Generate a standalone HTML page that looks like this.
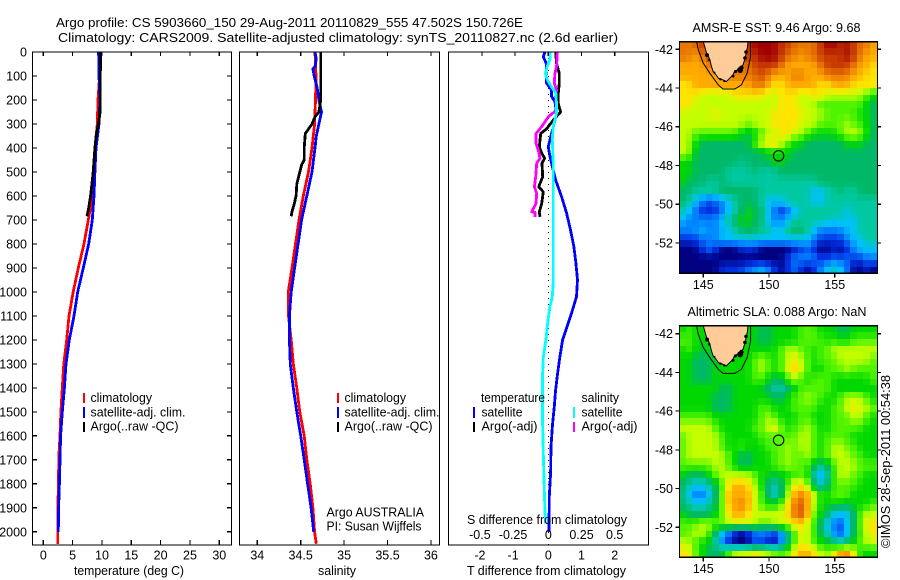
<!DOCTYPE html>
<html lang="en">
<head>
<meta charset="utf-8">
<title>Argo profile chart</title>
<style>
html,body{margin:0;padding:0;background:#fff;}
svg{display:block;font-family:"Liberation Sans",sans-serif;font-size:12.5px;fill:#000;}
text{fill:#000;}
.frame{fill:none;stroke:#000;stroke-width:1.4;}
</style>
</head>
<body>
<svg id="chart" width="900" height="580" viewBox="0 0 900 580" xmlns="http://www.w3.org/2000/svg">
<rect x="0" y="0" width="900" height="580" fill="#fff"/>
<text x="56" y="27" textLength="467" lengthAdjust="spacingAndGlyphs">Argo profile: CS 5903660_150 29-Aug-2011 20110829_555 47.502S 150.726E</text>
<text x="58" y="42" textLength="560" lengthAdjust="spacingAndGlyphs">Climatology: CARS2009. Satellite-adjusted climatology: synTS_20110827.nc (2.6d earlier)</text>

<g id="marks-layer"></g>

<text x="74" y="575" textLength="110" lengthAdjust="spacingAndGlyphs">temperature (deg C)</text>
<text x="318" y="575" textLength="38" lengthAdjust="spacingAndGlyphs">salinity</text>
<text x="467" y="575" textLength="159" lengthAdjust="spacingAndGlyphs">T difference from climatology</text>
<text x="467" y="524" textLength="160" lengthAdjust="spacingAndGlyphs">S difference from climatology</text>

<g>
<rect x="83" y="393" width="2" height="10" fill="#f00"/>
<text x="90.5" y="402" textLength="61.5" lengthAdjust="spacingAndGlyphs">climatology</text>
<rect x="83" y="407" width="2" height="11" fill="#00f"/>
<text x="90.5" y="416.5" textLength="95" lengthAdjust="spacingAndGlyphs">satellite-adj. clim.</text>
<rect x="83" y="422" width="2" height="10" fill="#000"/>
<text x="90.5" y="430.5" textLength="88" lengthAdjust="spacingAndGlyphs">Argo(..raw -QC)</text>
</g>
<g>
<rect x="337" y="393" width="2" height="10" fill="#f00"/>
<text x="344.5" y="402" textLength="61.5" lengthAdjust="spacingAndGlyphs">climatology</text>
<rect x="337" y="407" width="2" height="11" fill="#00f"/>
<text x="344.5" y="416.5" textLength="95" lengthAdjust="spacingAndGlyphs">satellite-adj. clim.</text>
<rect x="337" y="422" width="2" height="10" fill="#000"/>
<text x="344.5" y="430.5" textLength="88" lengthAdjust="spacingAndGlyphs">Argo(..raw -QC)</text>
</g>
<text x="326.5" y="516.5" textLength="97.5" lengthAdjust="spacingAndGlyphs">Argo AUSTRALIA</text>
<text x="326.5" y="530.5" textLength="95" lengthAdjust="spacingAndGlyphs">PI: Susan Wijffels</text>

<g>
<text x="481" y="402" textLength="64" lengthAdjust="spacingAndGlyphs">temperature</text>
<text x="581.5" y="402" textLength="37.5" lengthAdjust="spacingAndGlyphs">salinity</text>
<rect x="473" y="407" width="2" height="11" fill="#00f"/>
<text x="481.5" y="416.5" textLength="41" lengthAdjust="spacingAndGlyphs">satellite</text>
<rect x="473" y="422" width="2" height="10" fill="#000"/>
<text x="481.5" y="430.5" textLength="56" lengthAdjust="spacingAndGlyphs">Argo(-adj)</text>
<rect x="573" y="407" width="2" height="11" fill="#0ff"/>
<text x="581.5" y="416.5" textLength="41" lengthAdjust="spacingAndGlyphs">satellite</text>
<rect x="573" y="422" width="2" height="10" fill="#f0f"/>
<text x="581.5" y="430.5" textLength="56" lengthAdjust="spacingAndGlyphs">Argo(-adj)</text>
</g>

<text x="692.5" y="32" textLength="168" lengthAdjust="spacingAndGlyphs">AMSR-E SST: 9.46 Argo: 9.68</text>
<text x="687.5" y="316" textLength="179" lengthAdjust="spacingAndGlyphs">Altimetric SLA: 0.088 Argo: NaN</text>
<text transform="translate(890,548) rotate(-90)" textLength="173" lengthAdjust="spacingAndGlyphs">©IMOS 28-Sep-2011 00:54:38</text>
</svg>

<script>
// ---------- profile data (depth in m, temperature deg C, salinity psu, differences) ----------
const depthTicks = [0,100,200,300,400,500,600,700,800,900,1000,1100,1200,1300,1400,1500,1600,1700,1800,1900,2000];
const tempTicks = [0,5,10,15,20,25,30];
const salTicks = [34,34.5,35,35.5,36];
const tDiffTicks = [-2,-1,0,1,2];
const sDiffTicks = [-0.5,-0.25,0,0.25,0.5];

const tempClimDepth = [0,100,200,300,400,500,600,700,800,900,1000,1100,1200,1300,1400,1500,1600,1700,1800,1900,2000,2050];
const tempClimValue = [9.6,9.6,9.32,9.2,8.8,8.7,8.4,7.67,6.94,5.97,5.1,4.38,3.98,3.5,3.24,3.0,2.85,2.62,2.6,2.45,2.45,2.45];
const tempSatDepth = [0,100,200,300,400,500,600,700,800,900,1000,1100,1200,1300,1400,1500,1600,1700,1800,1900,2000];
const tempSatValue = [9.43,9.5,9.65,9.5,8.98,8.8,8.64,8.35,7.74,6.82,5.86,5.23,4.43,3.87,3.6,3.24,2.95,2.85,2.75,2.6,2.55];
const tempArgoDepth = [0,100,200,250,300,350,400,500,600,650,685];
const tempArgoValue = [9.77,9.72,9.72,9.68,9.4,9.0,8.8,8.5,8.07,7.74,7.45];

const salClimDepth = [0,100,200,300,400,500,600,700,800,900,1000,1100,1200,1300,1400,1500,1600,1700,1800,1900,2000,2050];
const salClimValue = [34.665,34.676,34.67,34.66,34.63,34.59,34.53,34.48,34.44,34.40,34.357,34.36,34.39,34.415,34.455,34.49,34.54,34.57,34.61,34.64,34.66,34.68];
const salSatDepth = [0,30,60,70,100,150,200,250,300,350,400,500,600,700,800,900,1000,1100,1200,1300,1400,1500,1600,1700,1800,1900,2000];
const salSatValue = [34.665,34.68,34.665,34.64,34.655,34.69,34.71,34.74,34.71,34.68,34.665,34.63,34.57,34.51,34.47,34.43,34.39,34.37,34.37,34.38,34.415,34.455,34.5,34.54,34.58,34.62,34.65];
const salArgoDepth = [0,150,200,250,270,300,340,400,450,470,500,550,600,640,665,685];
const salArgoValue = [34.73,34.73,34.73,34.71,34.665,34.63,34.553,34.54,34.54,34.51,34.49,34.455,34.447,34.42,34.40,34.39];

const tDiffSatDepth = [0,20,50,90,130,158,185,207,255,310,395,436,464,533,603,672,742,811,880,950,1020,1089,1131,1200,1270,1340,1409,1478,1548,1645,1756,1853,2000];
const tDiffSatValue = [-0.1,-0.15,-0.05,-0.07,-0.05,0.1,0.1,0.2,0.25,0.15,0,0.05,0.1,0.22,0.4,0.55,0.67,0.77,0.83,0.88,0.85,0.7,0.6,0.43,0.35,0.28,0.22,0.18,0.13,0.08,0.07,0.03,0.02];
const sDiffSatDepth = [0,30,60,90,115,145,172,215,255,310,365,460,600,740,880,960,1020,1062,1131,1200,1270,1340,1548,1687,1826,1965];
const sDiffSatValue = [0.012,0.012,-0.008,-0.022,-0.008,0.025,0.057,0.062,0.062,0.037,0.03,0.037,0.037,0.037,0.037,0.037,0.03,0.012,-0.005,-0.018,-0.037,-0.043,-0.043,-0.037,-0.03,-0.022];
const tDiffArgoDepth = [0,48,90,130,172,215,250,284,320,340,395,422,443,464,520,562,583,632,667,687];
const tDiffArgoValue = [0.22,0.25,0.33,0.33,0.3,0.3,0.37,0.15,-0.05,-0.23,-0.27,-0.2,-0.11,-0.19,-0.17,-0.29,-0.15,-0.2,-0.27,-0.25];
const sDiffArgoDepth = [0,60,90,130,158,186,242,270,311,340,381,409,443,464,520,562,590,632,666,668,687];
const sDiffArgoValue = [0.0675,0.0625,0.05,0.045,0.0625,0.055,0.0625,0,-0.05,-0.0925,-0.0925,-0.075,-0.0625,-0.0875,-0.095,-0.105,-0.0875,-0.0925,-0.125,-0.1,-0.1];

// ---------- map data: colour-class per 0.5 degree cell, north to south ----------
const mapXTicks = [145,150,155];
const mapYTicks = [-42,-44,-46,-48,-50,-52];
const sstRows = [
[11,11,11,12,12,12,12,12,12,12,12,13,13,13,13,12,12,11,11,11,11,12,13,13,12,13,12,11,11,10],
[11,11,10,11,12,12,12,12,12,12,12,12,13,13,13,12,11,11,10,11,11,12,12,12,12,13,12,11,10,10],
[10,10,10,10,11,11,11,11,11,11,11,12,12,12,12,11,10,10,10,10,10,11,12,12,12,12,11,10,10,9],
[10,10,10,10,10,10,10,11,11,11,11,11,12,11,10,10,10,11,11,10,10,10,11,11,11,11,10,10,9,9],
[9,9,10,10,10,10,10,10,10,10,10,11,11,10,9,9,10,10,10,10,10,9,9,10,10,10,9,9,9,9],
[9,9,9,8,8,8,8,8,9,9,9,9,9,8,8,9,9,9,8,8,9,9,8,8,8,8,8,8,7,6],
[9,9,8,8,8,8,8,8,8,8,8,8,8,8,8,9,9,9,8,8,8,7,7,7,7,7,7,7,6,5],
[8,8,8,8,8,9,8,8,8,8,8,8,8,8,9,9,9,9,9,8,8,8,7,7,7,7,7,6,6,5],
[8,8,8,8,8,8,8,8,8,8,7,8,8,8,9,9,9,9,8,8,8,7,7,7,7,8,7,7,6,5],
[8,8,7,7,7,7,7,7,7,6,5,6,7,8,8,9,9,8,8,7,6,6,6,6,7,8,8,8,6,5],
[8,8,6,5,5,5,5,5,5,5,5,7,8,9,9,8,7,6,6,5,5,5,5,5,5,6,6,6,5,5],
[8,8,5,5,5,5,5,5,5,5,5,5,5,6,6,6,6,5,5,5,5,5,5,5,5,5,5,5,5,5],
[6,6,5,5,5,5,5,5,5,4,5,5,5,5,6,6,5,5,5,5,5,5,5,5,5,5,5,5,5,5],
[6,6,5,5,5,5,5,4,4,4,4,5,4,4,4,5,5,5,5,5,5,5,5,5,5,5,5,5,5,5],
[6,5,5,5,4,4,5,4,4,4,4,4,4,4,4,4,4,4,4,4,4,5,5,5,5,5,5,5,5,5],
[5,5,4,4,4,4,5,5,5,5,5,5,4,4,4,4,4,4,4,4,3,3,4,4,5,4,4,5,5,5],
[5,4,3,2,1,2,2,3,4,5,5,5,4,3,3,3,4,4,4,4,3,3,4,4,4,4,4,4,4,4],
[4,3,2,1,1,1,2,3,4,5,6,5,5,3,2,1,2,3,4,4,4,4,4,4,4,3,4,4,4,4],
[3,2,2,2,2,2,3,4,5,6,6,5,5,3,2,2,3,4,4,4,4,4,4,3,4,3,3,4,4,4],
[2,2,2,3,2,2,3,3,4,5,5,5,4,4,3,3,4,5,5,4,3,2,2,2,2,3,3,4,4,4],
[1,1,1,2,2,2,3,3,3,3,3,3,3,3,3,3,3,3,3,3,2,1,1,1,1,2,3,3,4,4],
[0,0,0,1,2,1,0,0,0,1,1,1,0,0,0,0,0,1,1,2,1,0,0,1,0,1,2,3,3,3],
[0,0,0,0,0,0,0,0,0,0,0,0,0,0,0,0,1,2,2,2,2,1,1,2,1,2,1,1,2,2],
[0,0,0,0,0,0,1,1,1,1,2,2,3,2,1,0,1,2,1,0,1,2,3,4,3,2,0,0,1,0]
];
const slaRows = [
[6,7,6,6,6,6,6,6,6,6,6,6,5,5,6,6,6,6,7,7,7,6,6,6,5,5,6,6,6,6],
[7,7,6,6,6,6,6,6,6,6,6,6,5,5,6,6,6,6,7,7,7,7,6,7,6,6,7,7,7,7],
[6,7,6,5,6,6,6,6,6,6,6,6,6,6,6,7,8,8,7,7,6,7,7,8,8,8,8,8,8,8],
[6,6,5,5,5,6,6,6,6,6,6,7,8,7,6,7,8,9,8,7,6,7,7,7,8,8,8,8,8,7],
[6,6,5,5,5,6,6,6,6,6,6,7,8,7,6,7,8,10,8,7,6,6,7,7,7,8,7,7,7,7],
[6,6,5,5,5,6,6,6,6,6,6,7,7,6,5,5,7,8,7,6,7,7,7,6,6,6,6,6,6,7],
[6,6,6,6,6,6,5,5,6,6,6,6,6,5,4,4,5,6,7,7,7,7,7,6,6,6,6,6,6,6],
[6,6,6,6,6,5,5,5,6,6,6,6,6,6,5,5,6,7,7,8,7,7,6,6,7,8,8,8,7,6],
[6,6,6,6,6,5,5,5,6,6,6,6,7,7,6,6,6,7,7,7,7,6,6,7,7,8,9,8,8,7],
[7,7,7,7,7,6,6,6,6,6,6,6,7,8,7,6,6,6,7,7,6,6,6,7,7,7,8,8,7,6],
[8,8,8,8,8,7,6,6,6,6,6,7,7,8,9,7,6,7,7,8,7,6,6,7,7,7,7,7,6,6],
[7,8,8,8,8,8,7,6,6,6,6,6,7,7,7,7,7,7,8,8,7,6,7,7,7,7,6,6,6,6],
[7,8,8,8,8,8,7,6,6,7,6,6,6,7,7,7,8,7,8,8,7,6,7,8,8,7,7,6,6,6],
[7,8,8,8,8,8,8,7,6,5,5,6,6,6,7,7,8,7,7,8,7,6,7,8,8,8,7,7,6,6],
[7,7,7,7,7,8,8,7,6,5,5,6,6,6,7,7,8,7,7,7,5,4,5,7,8,8,8,7,7,7],
[6,5,5,5,6,7,8,8,8,8,8,7,6,6,5,6,6,7,7,7,4,2,4,7,8,8,7,7,6,6],
[5,4,3,3,4,5,7,9,10,10,9,8,6,5,3,5,7,9,9,8,5,3,5,7,7,7,7,6,6,6],
[5,3,2,2,3,5,7,10,10,10,10,8,7,5,3,5,8,10,11,10,8,6,6,7,7,7,6,6,6,6],
[5,4,3,3,4,5,7,10,10,11,10,8,7,6,6,7,9,11,12,10,8,6,6,6,6,5,6,6,6,7],
[6,5,5,5,5,6,7,9,10,10,9,8,8,8,8,8,9,11,12,10,7,6,5,3,3,3,5,7,8,8],
[7,7,7,8,8,7,7,8,8,8,8,8,7,7,8,8,8,9,10,8,7,5,3,2,1,3,5,7,9,9],
[7,7,8,8,7,5,3,2,1,0,1,2,2,2,1,2,5,7,9,8,7,5,4,2,1,3,5,7,8,9],
[8,8,7,6,6,4,2,1,0,0,0,2,1,1,0,2,5,7,9,8,7,6,6,5,4,5,6,7,8,8],
[9,9,7,6,5,5,5,7,8,8,8,9,8,8,7,7,7,9,10,10,9,8,7,9,10,11,9,6,6,6]
];
const landLon = [145,145.25,145.35,145.5,145.62,145.75,145.95,146.15,146.4,146.75,147.0,147.25,147.4,147.65,147.85,148.03,148.2,148.28,148.35,148.4];
const landLat = [-41.6,-42.2,-42.3,-42.55,-42.9,-43.15,-43.3,-43.5,-43.55,-43.67,-43.5,-43.32,-43.1,-43.07,-42.9,-42.8,-42.4,-42.12,-41.9,-41.6];
const shelfLon = [144.5,144.62,145,145.5,146.14,146.5,147.4,147.9,148.33,148.6,148.6];
const shelfLat = [-41.6,-42.03,-42.72,-43.24,-43.84,-44.05,-44.05,-43.84,-43.24,-42.38,-41.6];
const inletLon = [145.28,145.45,145.85,146.3,146.6,147.26,147.45,147.8,147.9,148.17,148.25];
const inletLat = [-42.3,-42.55,-43.2,-43.55,-43.64,-43.38,-43.15,-43.07,-42.95,-42.45,-42.14];
const inletSize = [2,1.2,1,1.2,1.2,1.5,1.5,3,2.2,1.8,1.8];
const profileLon = 150.726;
const profileLat = -47.502;

// ---------- layout ----------
const NS = 'http://www.w3.org/2000/svg';
const layer = document.getElementById('marks-layer');
const paletteRgb = [[0,0,128],[0,48,224],[0,128,255],[0,192,255],[0,200,160],[0,184,104],[0,216,0],[80,244,0],[196,255,0],[255,228,0],[255,170,0],[232,120,0],[200,60,0],[160,0,0]];
const panelTop = 52, panelBottom = 545;
const depthY = d => panelTop + d * 0.2399;
const tempX = t => 43.3 + t * 5.867;
const salX = s => 257.3 + (s - 34) * 86.8;
const tDiffX = t => 548.3 + t * 33.2;
const sDiffX = s => 548.3 + s * 132.8;

function svgEl(tag, attrs, parent) {
  const el = document.createElementNS(NS, tag);
  for (const k in attrs) el.setAttribute(k, attrs[k]);
  parent.appendChild(el);
  return el;
}
function drawSeries(name, depths, values, xFn, color, parent) {
  const pts = depths.map((d, i) => xFn(values[i]).toFixed(1) + ',' + depthY(d).toFixed(1)).join(' ');
  const el = svgEl('polyline', {points: pts, fill: 'none', stroke: color, 'stroke-width': 2.8, 'stroke-linejoin': 'round', 'shape-rendering': 'crispEdges'}, parent);
  
  
}
function tickLine(name, x1, y1, x2, y2, parent) {
  const el = svgEl('line', {x1: x1, y1: y1, x2: x2, y2: y2, stroke: '#000', 'stroke-width': 1.2, 'shape-rendering': 'crispEdges'}, parent);
  
  
}
function label(name, x, y, str, anchor, parent) {
  const el = svgEl('text', {x: x, y: y, 'text-anchor': anchor}, parent);
  el.textContent = str;
  
  
}
function frame(name, x1, x2, y1, y2, parent) {
  const el = svgEl('rect', {x: x1, y: y1, width: x2 - x1, height: y2 - y1, 'class': 'frame', 'shape-rendering': 'crispEdges'}, parent);
  
  
}

// ---------- temperature panel ----------
const tempPanel = svgEl('g', {}, layer);


drawSeries('temperature-climatology-line', tempClimDepth, tempClimValue, tempX, '#f00', tempPanel);
drawSeries('temperature-satellite-line', tempSatDepth, tempSatValue, tempX, '#00f', tempPanel);
drawSeries('temperature-argo-line', tempArgoDepth, tempArgoValue, tempX, '#000', tempPanel);
frame('temperature-plot-frame', 32.5, 231.5, panelTop, panelBottom, tempPanel);
depthTicks.forEach(d => {
  tickLine('depth-tick-left', 32.5, depthY(d), 37, depthY(d), tempPanel);
  tickLine('depth-tick-right', 231.5, depthY(d), 227, depthY(d), tempPanel);
  label('depth-tick-label', 27, depthY(d) + 4.5, String(d), 'end', tempPanel);
});
tempTicks.forEach(t => {
  tickLine('temperature-tick-top', tempX(t), panelTop, tempX(t), panelTop + 4, tempPanel);
  tickLine('temperature-tick-bottom', tempX(t), panelBottom, tempX(t), panelBottom - 5, tempPanel);
  label('temperature-tick-label', tempX(t), 559.5, String(t), 'middle', tempPanel);
});

// ---------- salinity panel ----------
const salPanel = svgEl('g', {}, layer);


drawSeries('salinity-climatology-line', salClimDepth, salClimValue, salX, '#f00', salPanel);
drawSeries('salinity-satellite-line', salSatDepth, salSatValue, salX, '#00f', salPanel);
drawSeries('salinity-argo-line', salArgoDepth, salArgoValue, salX, '#000', salPanel);
frame('salinity-plot-frame', 239.5, 439.5, panelTop, panelBottom, salPanel);
salTicks.forEach(s => {
  tickLine('salinity-tick-top', salX(s), panelTop, salX(s), panelTop + 4, salPanel);
  tickLine('salinity-tick-bottom', salX(s), panelBottom, salX(s), panelBottom - 5, salPanel);
  label('salinity-tick-label', salX(s), 559.5, String(s), 'middle', salPanel);
});

// ---------- difference panel ----------
const diffPanel = svgEl('g', {}, layer);


const zeroLine = svgEl('line', {x1: tDiffX(0), y1: panelTop, x2: tDiffX(0), y2: panelBottom, stroke: '#000', 'stroke-width': 1, 'stroke-dasharray': '1 5', 'shape-rendering': 'crispEdges'}, diffPanel);


drawSeries('t-difference-satellite-line', tDiffSatDepth, tDiffSatValue, tDiffX, '#00f', diffPanel);
drawSeries('t-difference-argo-line', tDiffArgoDepth, tDiffArgoValue, tDiffX, '#000', diffPanel);
drawSeries('s-difference-argo-line', sDiffArgoDepth, sDiffArgoValue, sDiffX, '#f0f', diffPanel);
drawSeries('s-difference-satellite-line', sDiffSatDepth, sDiffSatValue, sDiffX, '#0ff', diffPanel);
frame('difference-plot-frame', 448.5, 648.5, panelTop, panelBottom, diffPanel);
tDiffTicks.forEach(t => {
  tickLine('t-difference-tick-top', tDiffX(t), panelTop, tDiffX(t), panelTop + 4, diffPanel);
  label('t-difference-tick-label', tDiffX(t) - (t < 0 ? 2 : 0), 559.5, String(t), 'middle', diffPanel);
});
sDiffTicks.forEach(s => {
  label('s-difference-tick-label', sDiffX(s) - (s < 0 ? 2 : 0), 539, String(s), 'middle', diffPanel);
});

// ---------- maps ----------
const lonX = lon => 703.3 + (lon - 145) * 13.15;
const firstLon = 143.175, cellDeg = 0.5, displayRows = 35;
function classColor(v) {
  const i = Math.max(0, Math.min(paletteRgb.length - 2, Math.floor(v)));
  const t = Math.max(0, Math.min(1, v - i));
  const a = paletteRgb[i], b = paletteRgb[i + 1];
  return 'rgb(' + a.map((n, k) => Math.round(n + (b[k] - n) * t)).join(',') + ')';
}
function rowAt(rows, r, c) {
  const row = rows[Math.max(0, Math.min(rows.length - 1, r))];
  const at = j => row[Math.max(0, Math.min(row.length - 1, j))];
  return 0.22 * at(c - 1) + 0.56 * at(c) + 0.22 * at(c + 1);
}
function fieldAt(rows, k, c) {
  const f = (k + 0.5) / displayRows * rows.length - 0.5;
  const r0 = Math.floor(f);
  const t = f - r0;
  return rowAt(rows, r0, c) * (1 - t) + rowAt(rows, r0 + 1, c) * t;
}
function drawMap(mapName, rows, boxTop, boxBottom, y42, tickBaseline) {
  const latY = lat => y42 + (-42 - lat) * 19.36;
  const mapBox = svgEl('g', {}, layer);
  
  
  const cellH = (boxBottom - boxTop) / displayRows;
  const colCount = rows[0].length;
  for (let k = 0; k < displayRows; k++) {
    for (let c = 0; c < colCount; c++) {
      const x0 = Math.round(lonX(firstLon + c * cellDeg));
      const x1 = Math.round(lonX(firstLon + (c + 1) * cellDeg));
      const y0 = Math.round(boxTop + k * cellH);
      const y1 = Math.round(boxTop + (k + 1) * cellH);
      const cell = svgEl('rect', {x: x0, y: y0, width: x1 - x0, height: y1 - y0, fill: classColor(fieldAt(rows, k, c)), 'shape-rendering': 'crispEdges'}, mapBox);
      
      
    }
  }
  const shelf = svgEl('polyline', {points: shelfLon.map((l, i) => lonX(l).toFixed(1) + ',' + latY(shelfLat[i]).toFixed(1)).join(' '), fill: 'none', stroke: '#000', 'stroke-width': 1}, mapBox);
  
  
  const land = svgEl('polygon', {points: landLon.map((l, i) => lonX(l).toFixed(1) + ',' + latY(landLat[i]).toFixed(1)).join(' '), fill: '#ffcc99', stroke: '#000', 'stroke-width': 1}, mapBox);
  
  
  inletLon.forEach((l, i) => {
    const inlet = svgEl('circle', {cx: lonX(l), cy: latY(inletLat[i]), r: inletSize[i], fill: '#000'}, mapBox);
    
    
  });
  const marker = svgEl('circle', {cx: lonX(profileLon), cy: latY(profileLat), r: 5.2, fill: 'none', stroke: '#000', 'stroke-width': 1.1}, mapBox);
  
  
  frame(mapName + '-frame', 679.5, 877.5, boxTop, boxBottom, mapBox);
  mapXTicks.forEach(l => {
    tickLine('longitude-tick', lonX(l), boxBottom, lonX(l), boxBottom + 4, mapBox);
    label('longitude-tick-label', lonX(l), tickBaseline, String(l), 'middle', mapBox);
  });
  mapYTicks.forEach(l => {
    tickLine('latitude-tick-left', 679.5, latY(l), 675.5, latY(l), mapBox);
    tickLine('latitude-tick-right', 877.5, latY(l), 881, latY(l), mapBox);
    label('latitude-tick-label', 673, latY(l) + 4.5, String(l), 'end', mapBox);
  });
}
drawMap('sst-map', sstRows, 41.7, 273.3, 49.3, 289);
drawMap('sla-map', slaRows, 325.7, 557.3, 333.7, 573);
</script>
</body>
</html>
